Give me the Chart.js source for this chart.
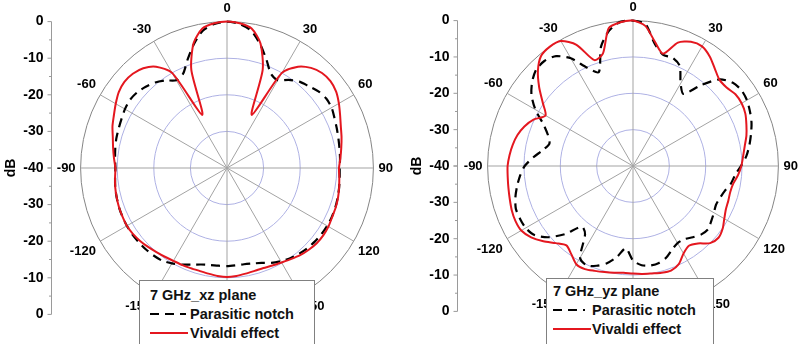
<!DOCTYPE html>
<html>
<head>
<meta charset="utf-8">
<script src="https://cdn.jsdelivr.net/npm/chart.js@4.4.1/dist/chart.umd.min.js"></script>
<style>
  body {
    margin: 0;
    width: 799px;
    height: 344px;
    overflow: hidden;
    position: relative;
    background: #fff;
    font-family: 'Liberation Sans', Arial, sans-serif;
  }
  .plot {
    position: absolute;
    top: 0;
    width: 424px;
    height: 344px;
  }
  .legend {
    position: absolute;
    background: #fff;
    border: 1px solid #808080;
    box-sizing: border-box;
    z-index: 2;
  }
  .legend__item {
    position: absolute;
    white-space: nowrap;
    font: bold 14.5px/16px 'Liberation Sans', Arial, sans-serif;
    color: #111;
  }
  .legend svg {
    position: absolute;
  }
</style>
</head>
<body>
<div class="plot" style="left:0"><canvas id="xzChart"></canvas></div>
<div class="plot" style="left:406px"><canvas id="yzChart"></canvas></div>

<div class="legend" style="left:139px; top:280px; width:176px; height:66px">
  <div class="legend__item" style="left:10px; top:6px">7 GHz_xz plane</div>
  <svg style="left:10px; top:31px" width="36" height="4"><line x1="0" y1="2" x2="36" y2="2" stroke="#000" stroke-width="2.2" stroke-dasharray="9 6"/></svg>
  <div class="legend__item" style="left:50px; top:25px">Parasitic notch</div>
  <svg style="left:10px; top:50px" width="38" height="4"><line x1="0" y1="2" x2="38" y2="2" stroke="#e4171f" stroke-width="2"/></svg>
  <div class="legend__item" style="left:50px; top:44px">Vivaldi effect</div>
</div>

<div class="legend" style="left:546px; top:278px; width:168px; height:68px">
  <div class="legend__item" style="left:6px; top:4px">7 GHz_yz plane</div>
  <svg style="left:6px; top:29px" width="32" height="4"><line x1="0" y1="2" x2="32" y2="2" stroke="#000" stroke-width="2.2" stroke-dasharray="9 6"/></svg>
  <div class="legend__item" style="left:45px; top:23px">Parasitic notch</div>
  <svg style="left:6px; top:48px" width="38" height="4"><line x1="0" y1="2" x2="38" y2="2" stroke="#e4171f" stroke-width="2"/></svg>
  <div class="legend__item" style="left:45px; top:42px">Vivaldi effect</div>
</div>

<script>
/**
 * Data (dB, one value every 5 degrees, clockwise from 0)
 */
const angles = Array.from({ length: 72 }, (_, i) => i * 5);
const majorTicks = [0, -10, -20, -30, -40];
const minorTicks = [-5, -15, -25, -35];

// 7 GHz, xz plane
const xzNotch = [
  0, -0.5, -1.9, -5.0, -8.5, -11.6, -12.3, -10.6, -9.2, -8.4, -7.4, -6.9, -7.0, -7.6, -8.1, -8.5, -8.8, -9.0,
  -9.2, -9.1, -8.9, -8.7, -8.5, -8.4, -8.4, -8.5, -8.7, -9.0, -9.4, -9.9, -10.6, -11.4, -12.4, -13.0, -13.3, -13.3,
  -13.2, -13.2, -13.1, -12.7, -11.9, -10.9, -9.9, -9.1, -8.8, -8.6, -8.5, -8.4, -8.4, -8.5, -8.6, -8.8, -9.0, -9.3,
  -9.5, -9.3, -9.0, -8.7, -8.5, -8.2, -7.8, -7.6, -7.9, -8.6, -9.5, -10.8, -12.3, -11.6, -8.5, -5.0, -1.9, -0.5,
];
const xzVivaldi = [
  0, -0.3, -1.3, -4.7, -11.5, -24.0, -10.0, -6.2, -4.3, -3.3, -3.1, -3.6, -4.7, -5.9, -6.9, -7.6, -8.3, -8.9,
  -9.4, -9.2, -8.9, -8.6, -8.4, -8.3, -8.0, -7.9, -8.0, -8.4, -8.9, -9.6, -10.2, -10.6, -10.9, -10.9, -10.7, -10.4,
  -10.2, -10.4, -10.7, -10.9, -10.9, -10.8, -10.7, -10.4, -10.0, -9.5, -9.0, -8.6, -8.4, -8.5, -8.6, -8.8, -9.0, -9.3,
  -9.5, -9.0, -8.4, -7.7, -6.7, -5.9, -4.9, -3.9, -3.4, -3.6, -4.4, -6.2, -10.0, -24.0, -11.5, -4.7, -1.3, -0.3,
];

// 7 GHz, yz plane
const yzNotch = [
  0, -0.8, -5.8, -8.3, -8.3, -9.6, -13.8, -15.8, -11.0, -6.3, -4.3, -3.6, -3.8, -4.5, -5.3, -6.4, -7.5, -8.7,
  -10.3, -11.8, -12.6, -13.8, -14.5, -14.8, -14.3, -13.7, -13.0, -13.4, -14.4, -15.4, -15.5, -14.6, -13.2, -12.4, -12.2, -12.6,
  -14.0, -17.3, -14.6, -12.3, -10.8, -9.8, -10.9, -17.0, -18.2, -13.5, -9.5, -6.9, -5.9, -5.7, -5.7, -6.5, -7.6, -8.8,
  -10.2, -12.5, -14.8, -16.2, -15.1, -12.8, -9.0, -5.9, -3.8, -2.4, -2.2, -3.1, -5.8, -10.2, -12.5, -6.0, -2.2, -0.2,
];
const yzVivaldi = [
  0, -1.3, -5.3, -8.0, -3.9, -2.3, -2.0, -3.2, -5.0, -6.4, -6.4, -5.6, -5.5, -5.9, -6.8, -7.7, -8.8, -9.6,
  -10.2, -11.0, -12.0, -12.3, -12.1, -11.8, -11.0, -9.9, -9.3, -10.0, -12.2, -13.2, -12.2, -10.2, -9.4, -9.6, -10.0, -10.2,
  -10.4, -10.5, -10.2, -9.8, -9.3, -8.7, -8.8, -10.4, -11.5, -10.0, -7.8, -5.8, -4.5, -4.3, -4.5, -4.9, -5.2, -5.4,
  -5.5, -5.9, -6.4, -7.1, -8.2, -9.8, -12.2, -9.7, -6.3, -3.0, -0.6, 0, -0.3, -3.2, -9.0, -8.0, -1.5, -0.3,
];

const fontFamily = "'Liberation Sans', Arial, sans-serif";
Chart.defaults.font.family = fontFamily;

/**
 * Left dB axis, drawn from the radial scale
 */
const dbAxis = {
  id: 'dbAxis',
  afterDraw(chart) {
    const { ctx } = chart;
    const scale = chart.scales.r;
    const x = 51.5;
    const cy = scale.yCenter;
    const R = scale.drawingArea;
    ctx.save();
    ctx.strokeStyle = '#9a9a9a';
    ctx.lineWidth = 1;
    ctx.beginPath();
    ctx.moveTo(x, cy - R);
    ctx.lineTo(x, cy + R);
    // Major and minor ticks on both halves
    majorTicks.forEach((value) => {
      const d = scale.getDistanceFromCenterForValue(value);
      [cy - d, cy + d].forEach((y) => {
        ctx.moveTo(x - 4, y);
        ctx.lineTo(x, y);
      });
    });
    minorTicks.forEach((value) => {
      const d = scale.getDistanceFromCenterForValue(value);
      [cy - d, cy + d].forEach((y) => {
        ctx.moveTo(x - 2.5, y);
        ctx.lineTo(x, y);
      });
    });
    ctx.stroke();
    // Tick labels
    ctx.fillStyle = '#000';
    ctx.font = `bold 14px ${fontFamily}`;
    ctx.textAlign = 'right';
    ctx.textBaseline = 'middle';
    majorTicks.forEach((value) => {
      const d = scale.getDistanceFromCenterForValue(value);
      ctx.fillText(String(value), x - 8, cy - d);
      if (d > 0) ctx.fillText(String(value), x - 8, cy + d);
    });
    // Axis title
    ctx.translate(11, cy);
    ctx.rotate(-Math.PI / 2);
    ctx.textAlign = 'center';
    ctx.fillText('dB', 0, 0);
    ctx.restore();
  },
};

/**
 * Polar chart
 */
function createPolarChart({ selector, notch, vivaldi, padding }) {
  const ctx = document.getElementById(selector).getContext('2d');
  const chart = new Chart(ctx, {
    type: 'radar',
    data: {
      labels: angles,
      datasets: [
        {
          label: 'Parasitic notch',
          data: notch,
          borderColor: '#000',
          borderWidth: 2.2,
          borderDash: [9, 6],
          fill: false,
          order: 1,
        },
        {
          label: 'Vivaldi effect',
          data: vivaldi,
          borderColor: '#e4171f',
          borderWidth: 2,
          fill: false,
          order: 0,
        },
      ],
    },
    options: {
      responsive: true,
      maintainAspectRatio: false,
      animation: false,
      layout: { padding: padding },
      elements: {
        point: { radius: 0, hoverRadius: 0 },
        line: { tension: 0.25, borderJoinStyle: 'round' },
      },
      plugins: {
        legend: { display: false },
        tooltip: { enabled: false },
      },
      scales: {
        r: {
          min: -40,
          max: 0,
          ticks: { display: false, stepSize: 10 },
          grid: {
            circular: true,
            lineWidth: 1,
            color: (c) => (c.tick && c.tick.value === 0 ? '#858585' : '#aeb1e4'),
          },
          angleLines: {
            color: '#a3a3a3',
            lineWidth: (c) => (c.index % 6 === 0 ? 1 : 0),
          },
          pointLabels: {
            display: true,
            padding: 5,
            color: '#000',
            font: { size: 13, weight: 'bold' },
            callback: (value) => {
              if (value % 30 !== 0) return '';
              return value > 180 ? value - 360 : value;
            },
          },
        },
      },
    },
    plugins: [dbAxis],
  });
  return chart;
}

createPolarChart({
  selector: 'xzChart',
  notch: xzNotch,
  vivaldi: xzVivaldi,
  padding: { left: 32, right: 2, top: 2, bottom: 8 },
});

createPolarChart({
  selector: 'yzChart',
  notch: yzNotch,
  vivaldi: yzVivaldi,
  padding: { left: 32, right: 2, top: 1, bottom: 11 },
});
</script>
</body>
</html>
